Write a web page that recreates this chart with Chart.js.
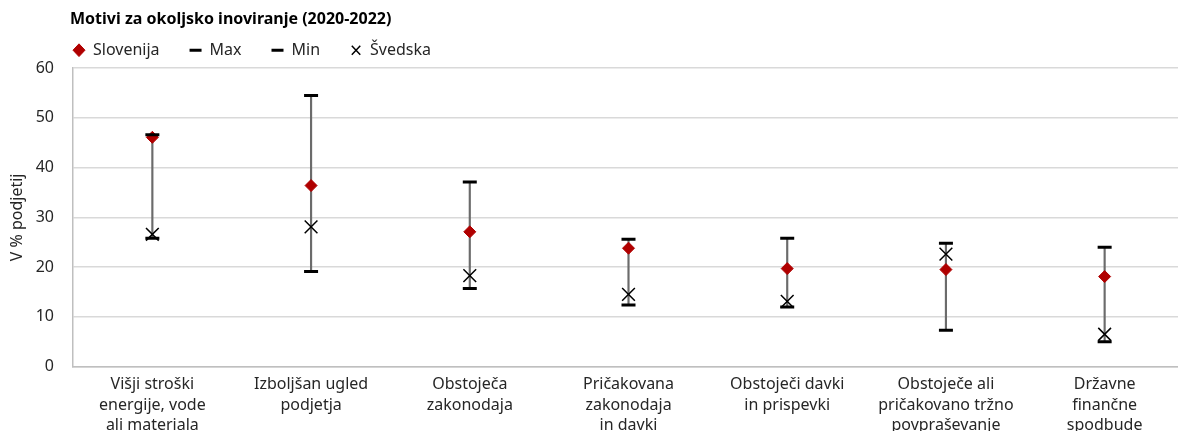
<!DOCTYPE html>
<html>
<head>
<meta charset="utf-8">
<script src="https://cdn.jsdelivr.net/npm/chart.js@4"></script>
<style>
  html, body { margin: 0; padding: 0; background: #fff; overflow: hidden; }
  #wrap { width: 1178px; height: 431px; overflow: hidden; }
</style>
</head>
<body>
<div id="wrap"><canvas id="range-chart" width="1184" height="431"></canvas></div>
<script>
var categories = [
  ['Višji stroški', 'energije, vode', 'ali materiala'],
  ['Izboljšan ugled', 'podjetja'],
  ['Obstoječa', 'zakonodaja'],
  ['Pričakovana', 'zakonodaja', 'in davki'],
  ['Obstoječi davki', 'in prispevki'],
  ['Obstoječe ali', 'pričakovano tržno', 'povpraševanje'],
  ['Državne', 'finančne', 'spodbude']
];
var slovenija = [46.1, 36.4, 27.1, 23.8, 19.7, 19.5, 18.1];
var maxVals = [46.6, 54.5, 37.1, 25.6, 25.8, 24.8, 24.0];
var minVals = [25.8, 19.1, 15.7, 12.4, 12.0, 7.3, 5.0];
var svedska = [26.6, 28.1, 18.3, 14.5, 13.1, 22.6, 6.5];
var yTicks = [0, 10, 20, 30, 40, 50, 60];

var textColor = '#262626';
var legendPad = 30;
var legendLift = 21;
Chart.defaults.font.family = '"Noto Sans", sans-serif';
Chart.defaults.font.size = 16;
Chart.defaults.color = textColor;

// keep the legend tight under the title and start title/legend above the plot
var headerTweak = {
  id: 'headerTweak',
  beforeLayout: function (chart) {
    var lg = chart.legend;
    if (!lg._tight) {
      var fit = lg.fit;
      lg.fit = function () {
        fit.call(this);
        this.height -= legendLift;
      };
      lg._tight = true;
    }
  },
  afterLayout: function (chart) {
    chart.titleBlock.left = 70;
    chart.legend.left = 73 - legendPad;
    chart.legend.top -= legendLift;
  }
};

var data = {
  labels: categories,
  datasets: [
    {
      type: 'line',
      label: 'Slovenija',
      data: slovenija,
      showLine: false,
      pointStyle: 'rectRot',
      pointRadius: 6,
      pointBackgroundColor: '#B00000',
      pointBorderColor: '#B00000',
      backgroundColor: '#B00000',
      borderColor: '#B00000',
      borderWidth: 1,
      order: 2
    },
    {
      type: 'line',
      label: 'Max',
      data: maxVals,
      showLine: false,
      pointStyle: 'line',
      pointRadius: 7,
      borderColor: '#000',
      backgroundColor: '#000',
      borderWidth: 3,
      order: 1
    },
    {
      type: 'line',
      label: 'Min',
      data: minVals,
      showLine: false,
      pointStyle: 'line',
      pointRadius: 7,
      borderColor: '#000',
      backgroundColor: '#000',
      borderWidth: 3,
      order: 1
    },
    {
      type: 'line',
      label: 'Švedska',
      data: svedska,
      showLine: false,
      pointStyle: 'crossRot',
      pointRadius: 9,
      borderColor: '#000',
      backgroundColor: '#000',
      borderWidth: 1.5,
      order: 0
    },
    {
      type: 'bar',
      label: 'range',
      data: minVals.map(function (v, i) { return [v, maxVals[i]]; }),
      backgroundColor: '#6b6b6b',
      barThickness: 1.5,
      order: 10
    }
  ]
};

var config = {
  type: 'bar',
  data: data,
  plugins: [headerTweak],
  options: {
    responsive: false,
    animation: false,
    // the plot runs a little past the bottom edge, as in the original
    layout: { autoPadding: false, padding: { left: 0, right: 0, top: 0, bottom: -5 } },
    plugins: {
      title: {
        display: true,
        text: 'Motivi za okoljsko inoviranje (2020-2022)',
        align: 'start',
        color: '#000',
        font: { size: 16, weight: 'bold', lineHeight: 1.2 },
        padding: { top: 10, bottom: 4 }
      },
      legend: {
        display: true,
        align: 'start',
        labels: {
          usePointStyle: true,
          pointStyleWidth: 12,
          boxHeight: 9,
          padding: legendPad,
          color: textColor,
          font: { size: 16 },
          filter: function (item) { return item.text !== 'range'; },
          sort: function (a, b) { return a.datasetIndex - b.datasetIndex; }
        }
      },
      tooltip: { enabled: false }
    },
    scales: {
      x: {
        grid: { display: false },
        border: { display: true, color: '#bfbfbf', width: 1.5 },
        ticks: {
          color: textColor,
          maxRotation: 0,
          autoSkip: false,
          padding: 0,
          font: { size: 16, lineHeight: 1.28 }
        }
      },
      y: {
        min: 0,
        max: 60,
        afterBuildTicks: function (axis) {
          axis.ticks = yTicks.map(function (v) { return { value: v }; });
        },
        afterFit: function (axis) { axis.width = 73; },
        grid: { color: '#d9d9d9', lineWidth: 1.5, drawTicks: false },
        border: { display: true, color: '#bfbfbf', width: 1.5 },
        ticks: { color: textColor, padding: 19 },
        title: {
          display: true,
          text: 'V % podjetij',
          color: textColor,
          font: { size: 16 },
          padding: { top: 8, bottom: 8 }
        }
      }
    }
  }
};

var ctx = document.getElementById('range-chart').getContext('2d');
new Chart(ctx, config);
</script>
</body>
</html>
